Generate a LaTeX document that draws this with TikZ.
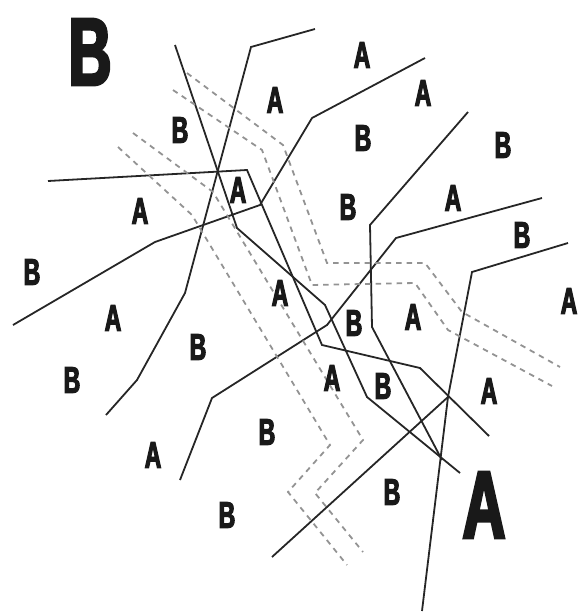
\documentclass[tikz,border=0pt]{standalone}
\usepackage{fontspec}
\newfontfamily\lblfont{Liberation Sans}[UprightFont=*-Bold, FakeStretch=0.62, FakeBold=3]
\begin{document}
\begin{tikzpicture}[x=1pt, y=-1pt,
    wall/.style={line width=1.8pt, black!85, line join=miter},
    trail/.style={line width=1.8pt, gray!85, dash pattern=on 5.5pt off 5pt},
    lbl/.style={font=\lblfont\fontsize{37}{37}\selectfont, text=black!90, inner sep=0pt},
    biglbl/.style={font=\lblfont\fontsize{96}{96}\selectfont, text=black!90, inner sep=0pt}
]
\useasboundingbox (0,0) rectangle (580,616);

% Solid boundary lines
\draw[wall] (48,181) -- (247,170) -- (322,345) -- (420,368) -- (489,436);
\draw[wall] (175,45) -- (237,228) -- (325,305) -- (367,397) -- (460,473);
\draw[wall] (468,112) -- (370,225) -- (372,327) -- (442,460);
\draw[wall] (13,325) -- (155,242) -- (260,205) -- (312,118) -- (425,58);
\draw[wall] (315,29) -- (251,47) -- (185,293) -- (137,380) -- (106,415);
\draw[wall] (542,198) -- (396,238) -- (327,325) -- (212,398) -- (180,480);
\draw[wall] (568,243) -- (472,272) -- (448,397) -- (422,611);
\draw[wall] (448,397) -- (272,557);

% Dashed paths
\draw[trail] (187,73) -- (283,145) -- (327,263) -- (425,263) -- (462,312) -- (560,367);
\draw[trail] (173,90) -- (262,150) -- (312,285) -- (415,283) -- (448,330) -- (552,386);
\draw[trail] (118,147) -- (192,215) -- (330,445) -- (288,492) -- (347,565);
\draw[trail] (133,133) -- (213,192) -- (363,440) -- (315,493) -- (363,552);

% Big labels
\node[biglbl] (bigB) at (90,52) {B};
\node[biglbl] (bigA) at (484,505) {A};

% Small labels
\node[lbl] (a1) at (362,55) {A};
\node[lbl] (a2) at (275,100) {A};
\node[lbl] (a3) at (423,93) {A};
\node[lbl] (b1) at (180,130) {B};
\node[lbl] (b2) at (363,138) {B};
\node[lbl] (b3) at (503,145) {B};
\node[lbl] (a4) at (238,190) {A};
\node[lbl] (a5) at (140,211) {A};
\node[lbl] (b4) at (348,207) {B};
\node[lbl] (a6) at (453,198) {A};
\node[lbl] (b5) at (522,235) {B};
\node[lbl] (b6) at (32,272) {B};
\node[lbl] (a7) at (280,293) {A};
\node[lbl] (a8) at (113,318) {A};
\node[lbl] (b7) at (354,323) {B};
\node[lbl] (a9) at (413,317) {A};
\node[lbl] (a10) at (569,301) {A};
\node[lbl] (b8) at (198,347) {B};
\node[lbl] (a11) at (332,378) {A};
\node[lbl] (b9) at (383,386) {B};
\node[lbl] (b10) at (72,380) {B};
\node[lbl] (a12) at (489,391) {A};
\node[lbl] (b11) at (267,432) {B};
\node[lbl] (a13) at (153,455) {A};
\node[lbl] (b12) at (392,492) {B};
\node[lbl] (b13) at (227,515) {B};
\end{tikzpicture}
\end{document}
